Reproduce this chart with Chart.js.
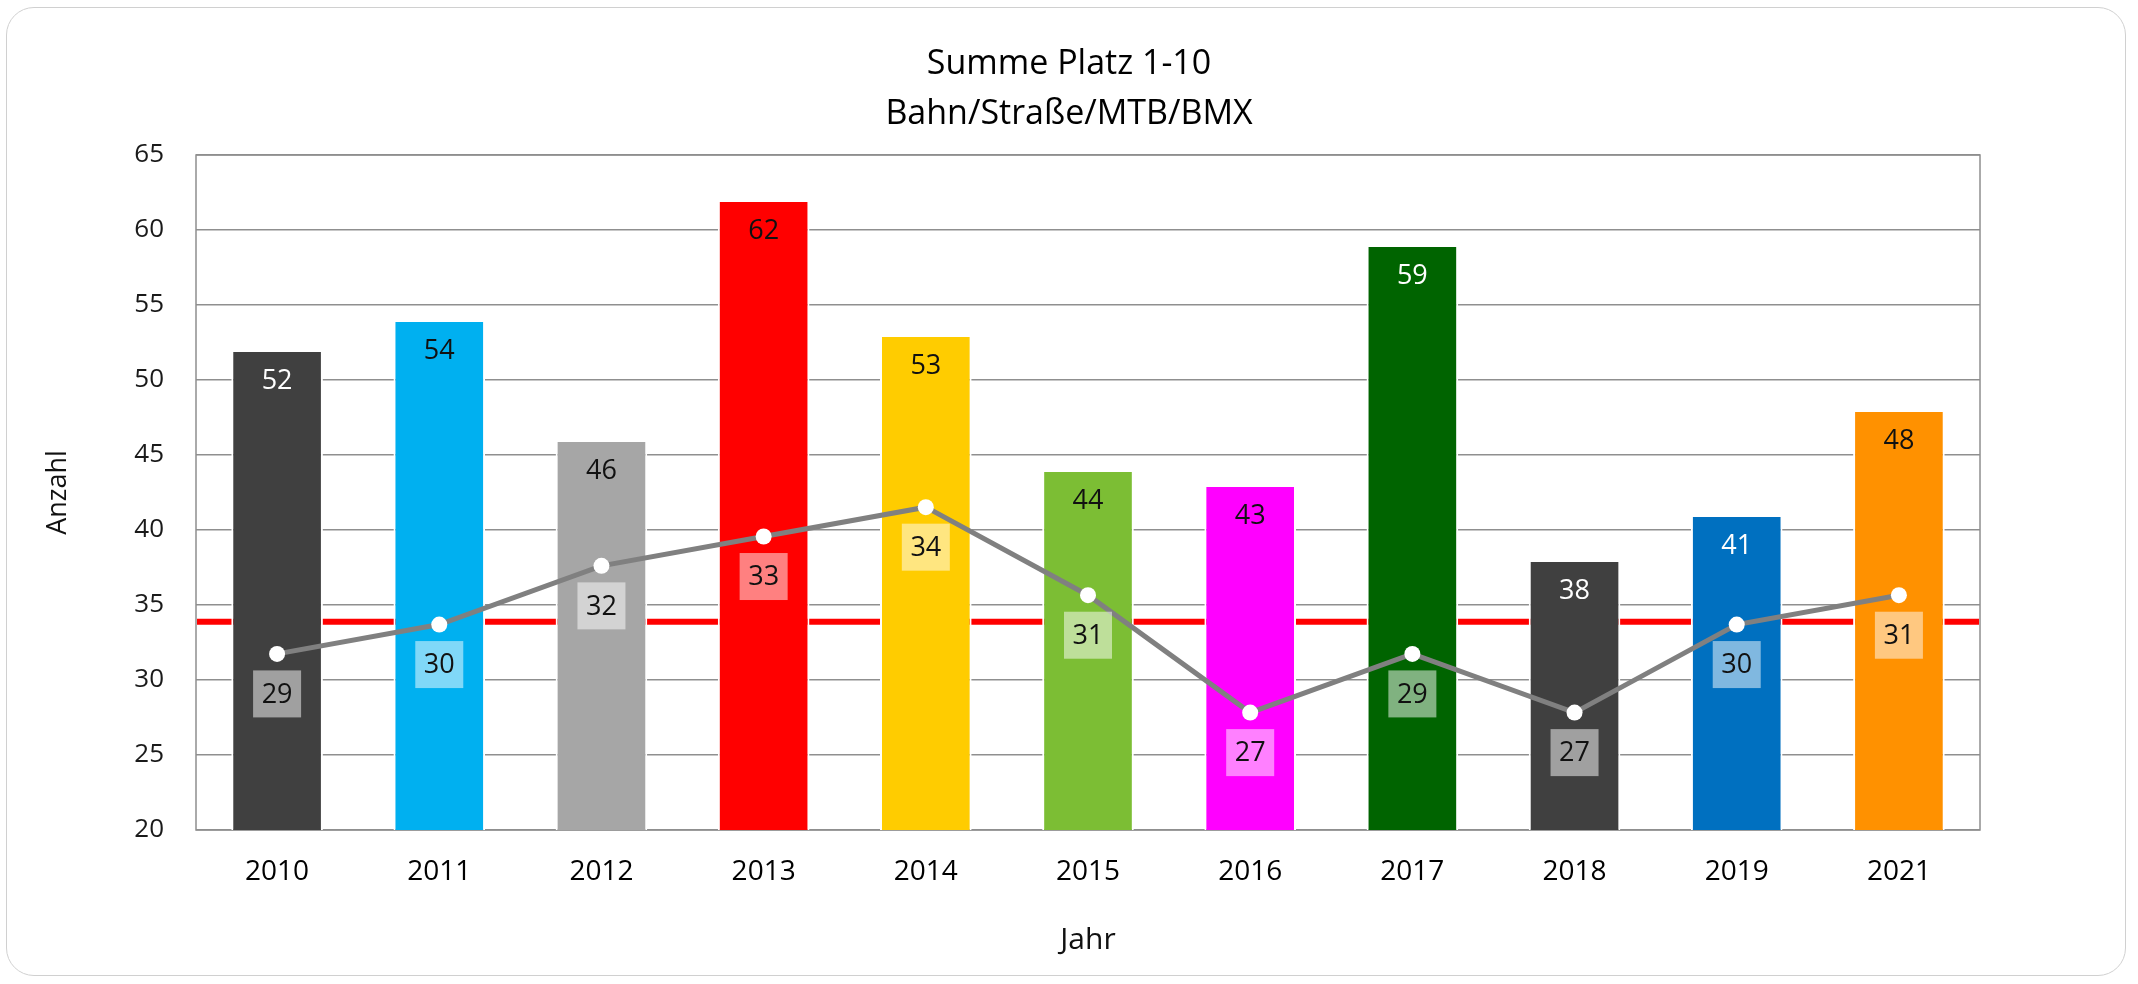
<!DOCTYPE html>
<html>
<head>
<meta charset="utf-8">
<title>Summe Platz 1-10</title>
<script src="https://cdn.jsdelivr.net/npm/chart.js@4/dist/chart.umd.min.js"></script>
<style>
  html, body { margin: 0; padding: 0; background: #fff; }
  .wrap { position: relative; width: 2138px; height: 984px; }
  .wrap canvas { position: absolute; left: 0; top: 0; }
  .frame {
    position: absolute; left: 6px; top: 7px; width: 2118px; height: 967px;
    border: 1.5px solid #d0d0d0; border-radius: 28px; pointer-events: none;
  }
</style>
</head>
<body>
<div class="wrap">
  <canvas id="chart" width="2138" height="984"></canvas>
  <div class="frame"></div>
</div>
<script>
// Daten
const jahre = ['2010', '2011', '2012', '2013', '2014', '2015', '2016', '2017', '2018', '2019', '2021'];
const summePlatz = [52, 54, 46, 62, 53, 44, 43, 59, 38, 41, 48];
const linienWerte = [29, 30, 32, 33, 34, 31, 27, 29, 27, 30, 31];
const linienSkala = [23, 46];        // verdeckte Nebenachse der Linie
const durchschnitt = [30.1];         // rote Linie, auf der Nebenachse
const yTicks = [20, 65, 5];          // min, max, Schritt

// Farben
const balkenFarben = ['#404040', '#00B0F0', '#A6A6A6', '#FF0000', '#FFCC00', '#7CBE34',
                      '#FF00FF', '#006400', '#404040', '#0070C0', '#FF9100'];
const balkenTextFarben = ['#fff', '#111', '#111', '#111', '#111', '#111',
                          '#111', '#fff', '#fff', '#fff', '#111'];

const FONT = '"Open Sans", "Noto Sans", sans-serif';

// Rahmen des Plotbereichs + rote Durchschnittslinie (hinter den Balken)
const hintergrund = {
  id: 'hintergrund',
  beforeDatasetsDraw(chart) {
    const { ctx, chartArea: a } = chart;
    const y1 = chart.scales.y1;
    ctx.save();
    ctx.strokeStyle = '#8f8f8f';
    ctx.lineWidth = 1.5;
    ctx.strokeRect(a.left, a.top, a.right - a.left, a.bottom - a.top);
    const yr = y1.getPixelForValue(durchschnitt[0]);
    ctx.strokeStyle = '#FF0000';
    ctx.lineWidth = 6;
    ctx.beginPath();
    ctx.moveTo(a.left + 1, yr);
    ctx.lineTo(a.right - 1, yr);
    ctx.stroke();
    ctx.restore();
  }
};

// Datenbeschriftungen
const beschriftung = {
  id: 'beschriftung',
  afterDatasetsDraw(chart) {
    const { ctx } = chart;
    ctx.save();
    ctx.font = '27px ' + FONT;
    ctx.textAlign = 'center';
    ctx.textBaseline = 'middle';

    const bars = chart.getDatasetMeta(0).data;
    bars.forEach((bar, i) => {
      ctx.fillStyle = balkenTextFarben[i];
      ctx.fillText(String(summePlatz[i]), bar.x, bar.y + 31);
    });

    const punkte = chart.getDatasetMeta(1).data;
    punkte.forEach((p, i) => {
      const cy = p.y + 40;
      ctx.fillStyle = 'rgba(255,255,255,0.5)';
      ctx.fillRect(p.x - 24, cy - 23.5, 48, 47);
      ctx.fillStyle = '#111';
      ctx.fillText(String(linienWerte[i]), p.x, cy + 1);
    });
    ctx.restore();
  }
};

new Chart(document.getElementById('chart'), {
  data: {
    labels: jahre,
    datasets: [
      {
        type: 'bar',
        label: 'Summe Platz 1-10',
        data: summePlatz,
        backgroundColor: balkenFarben,
        borderColor: '#ffffff',
        borderWidth: 2,
        categoryPercentage: 1,
        barPercentage: 0.565,
        yAxisID: 'y',
        order: 2
      },
      {
        type: 'line',
        label: 'Linie',
        data: linienWerte,
        borderColor: '#808080',
        borderWidth: 5,
        pointRadius: 8,
        pointBackgroundColor: '#ffffff',
        pointBorderColor: '#ffffff',
        pointBorderWidth: 0,
        tension: 0,
        yAxisID: 'y1',
        order: 1
      }
    ]
  },
  options: {
    responsive: false,
    animation: false,
    devicePixelRatio: 1,
    layout: { padding: { top: 20, left: 0, right: 0, bottom: 23 } },
    plugins: {
      legend: { display: false },
      tooltip: { enabled: false },
      title: {
        display: true,
        text: 'Summe Platz 1-10',
        color: '#000',
        font: { family: FONT, size: 34, weight: 'normal', lineHeight: 1.2 },
        padding: { top: 23.6, bottom: 5 }
      },
      subtitle: {
        display: true,
        text: 'Bahn/Straße/MTB/BMX',
        color: '#000',
        font: { family: FONT, size: 34, weight: 'normal', lineHeight: 1.2 },
        padding: { top: 4.7, bottom: 20.1 }
      }
    },
    scales: {
      x: {
        grid: { display: false, drawTicks: false },
        border: { display: false },
        ticks: {
          color: '#000',
          padding: 25,
          font: { family: FONT, size: 28, lineHeight: 1.2 }
        },
        title: {
          display: true,
          text: 'Jahr',
          color: '#111',
          font: { family: FONT, size: 30, lineHeight: 1.2 },
          padding: { top: 8.4, bottom: 3 }
        }
      },
      y: {
        min: yTicks[0],
        max: yTicks[1],
        afterFit(scale) { scale.width = 196; },
        grid: { color: '#8f8f8f', lineWidth: 1.5, drawTicks: false },
        border: { display: false },
        ticks: {
          stepSize: yTicks[2],
          color: '#1a1a1a',
          padding: 32,
          font: { family: FONT, size: 26, lineHeight: 1.2 }
        },
        title: {
          display: true,
          text: 'Anzahl',
          color: '#111',
          font: { family: FONT, size: 27, lineHeight: 1.2 },
          padding: { top: 41.8, bottom: 0 }
        }
      },
      y1: {
        position: 'right',
        min: linienSkala[0],
        max: linienSkala[1],
        afterFit(scale) { scale.width = 158; },
        grid: { display: false },
        border: { display: false },
        ticks: { display: false }
      }
    }
  },
  plugins: [hintergrund, beschriftung]
});
</script>
</body>
</html>
